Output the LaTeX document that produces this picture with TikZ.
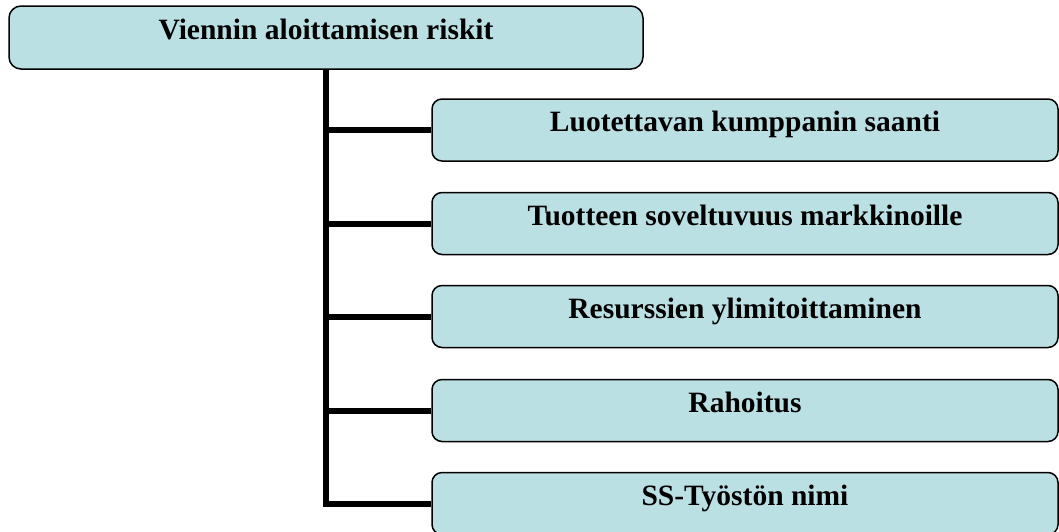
\documentclass[tikz,border=0pt]{standalone}
\usepackage{fontspec}
\setmainfont{Liberation Serif}
\begin{document}
\begin{tikzpicture}[x=1pt,y=-1pt,
  boxfill/.style={fill={rgb,255:red,187;green,224;blue,227}},
  riskbox/.style={draw=black, line width=1.5pt, boxfill, rounded corners=10pt,
    minimum height=62pt, inner sep=0pt,
    font=\fontsize{29.5}{32}\selectfont\bfseries,
    text height=0.6em, text depth=0.3em},
  topbox/.style={riskbox, minimum width=634pt, minimum height=63pt, rounded corners=12pt},
  childbox/.style={riskbox, minimum width=626pt},
  branch/.style={line width=6pt}]
\useasboundingbox (0,0) rectangle (1059,531);

\node[topbox] (top) at (326,37.5) {Viennin aloittamisen riskit};

\node[childbox] (c1) at (745,130)   {Luotettavan kumppanin saanti};
\node[childbox] (c2) at (745,223.5) {Tuotteen soveltuvuus markkinoille};
\node[childbox] (c3) at (745,316.5) {Resurssien ylimitoittaminen};
\node[childbox] (c4) at (745,410.5) {Rahoitus};
\node[childbox] (c5) at (745,503.5) {SS-Työstön nimi};

% trunk down to the last item, with branches to the others
\draw[branch] (top.south) |- (c5.west);
\foreach \n in {c1,c2,c3,c4}
  \draw[branch] (top.south |- \n.west) -- (\n.west);
\end{tikzpicture}
\end{document}
